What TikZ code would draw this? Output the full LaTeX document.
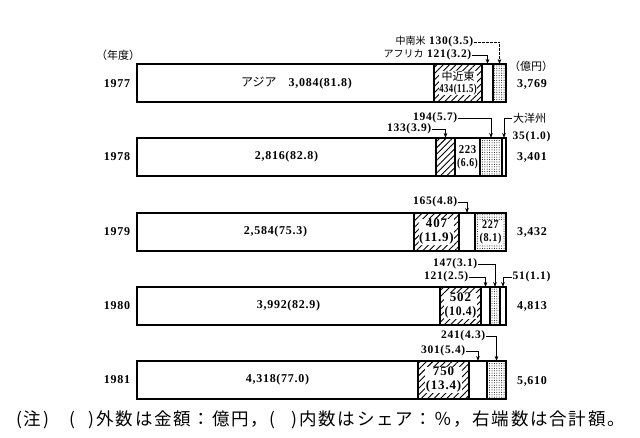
\documentclass[tikz,border=0pt]{standalone}
\usepackage{fontspec}
\usepackage{graphicx}
\usetikzlibrary{patterns.meta,arrows.meta}
\setmainfont{Liberation Serif}
\newfontfamily\jp{Noto Sans CJK JP}
\newfontfamily\jpnote{Noto Sans CJK JP}[LetterSpace=10]
\newfontfamily\numf{Liberation Serif}[LetterSpace=6]
\tikzset{
  seg/.style={draw, line width=1.6pt, inner sep=0pt, outer sep=0pt, minimum height=38pt, anchor=north west},
  hatch/.style={pattern={Lines[angle=45,distance=4.5pt,line width=0.9pt]}},
  dotfill/.style={pattern={Dots[distance=2.4pt,radius=0.5pt]}},
  num/.style={font=\numf\bfseries\fontsize{12}{13}\selectfont, inner sep=1pt},
  toplbl/.style={font=\numf\bfseries\fontsize{11.5}{12}\selectfont, inner sep=0.5pt},
  jpt/.style={font=\jp\fontsize{11}{12}\selectfont, inner sep=1pt},
  inlbl/.style={num, fill=white, inner sep=0.5pt, align=center},
  conn/.style={line width=0.7pt, -{Stealth[length=5pt,width=3.6pt]}}
}
\begin{document}
\begin{tikzpicture}[x=1pt,y=-1pt]
\useasboundingbox (0,0) rectangle (640,438);
\fill[white] (0,0) rectangle (640,438);
% header labels
\node[jpt] (nendo) at (118,55) {（年度）};
\node[jpt] (okuen) at (531,66) {（億円）};
% ---------------- 1977
\node[num] (y77) at (117,84) {1977};
\node[seg,minimum width=297pt] (a77) at (137,64) {};
\node[seg,hatch,minimum width=48pt] (b77) at (434,64) {};
\node[seg,minimum width=11pt] (c77) at (482,64) {};
\node[seg,dotfill,minimum width=13pt] (d77) at (493,64) {};
\node[num] (t77a) at ([xshift=11pt]a77.center) {{\jp\mdseries アジア}\quad 3,084(81.8)};
\node[inlbl, inner sep=0pt] (t77b) at (b77.center) {{\jp\mdseries\fontsize{11}{13}\selectfont 中近東}\\[-1pt]\scalebox{0.72}[1]{434(11.5)}};
\node[toplbl, anchor=east] (l77d) at (474,42) {{\jp\mdseries\fontsize{10}{11}\selectfont 中南米}\ 130(3.5)};
\draw[conn, dash pattern=on 2.5pt off 1.5pt] (l77d.east) -| (d77.north);
\node[toplbl, anchor=east] (l77c) at (472,55) {{\jp\mdseries\fontsize{10}{11}\selectfont アフリカ}\ 121(3.2)};
\draw[conn] (l77c.east) -| (c77.north);
\node[num] (s77) at (532,84) {3,769};
% ---------------- 1978
\node[num] (y78) at (117,157) {1978};
\node[seg,minimum width=299pt] (a78) at (137,138) {};
\node[seg,hatch,minimum width=19pt] (b78) at (436,138) {};
\node[seg,minimum width=25pt] (c78) at (455,138) {};
\node[seg,dotfill,minimum width=22pt] (d78) at (480,138) {};
\node[seg,minimum width=4pt] (e78) at (502,138) {};
\node[num] (t78a) at (a78.center) {2,816(82.8)};
\node[inlbl] (t78c) at (c78.center) {\scalebox{0.9}[1]{223}\\\scalebox{0.8}[1]{(6.6)}};
\node[toplbl, anchor=east] (l78d) at (458,118) {194(5.7)};
\draw[conn] (l78d.east) -| (d78.north);
\node[toplbl, anchor=east] (l78b) at (432,129) {133(3.9)};
\draw[conn] (l78b.east) -| (b78.north);
\node[jpt, anchor=west] (l78e) at (512,118) {大洋州};
\node[toplbl, anchor=west] (l78f) at (512,137) {35(1.0)};
\draw[conn] (l78e.west) -| (e78.north);
\node[num] (s78) at (532,157) {3,401};
% ---------------- 1979
\node[num] (y79) at (117,232) {1979};
\node[seg,minimum width=277pt] (a79) at (137,213) {};
\node[seg,hatch,minimum width=45pt] (b79) at (414,213) {};
\node[seg,minimum width=16pt] (c79) at (459,213) {};
\node[seg,dotfill,minimum width=31pt] (d79) at (475,213) {};
\node[num] (t79a) at (a79.center) {2,584(75.3)};
\node[inlbl, font=\numf\bfseries\fontsize{13}{14}\selectfont] (t79b) at (b79.center) {407\\(11.9)};
\node[inlbl] (t79d) at (d79.center) {\scalebox{0.85}[1]{227}\\\scalebox{0.85}[1]{(8.1)}};
\node[toplbl, anchor=east] (l79c) at (458,202) {165(4.8)};
\draw[conn] (l79c.east) -| (c79.north);
\node[num] (s79) at (532,232) {3,432};
% ---------------- 1980
\node[num] (y80) at (117,306) {1980};
\node[seg,minimum width=303pt] (a80) at (137,287) {};
\node[seg,hatch,minimum width=41pt] (b80) at (440,287) {};
\node[seg,minimum width=9pt] (c80) at (481,287) {};
\node[seg,dotfill,minimum width=10pt] (d80) at (490,287) {};
\node[seg,minimum width=6pt] (e80) at (500,287) {};
\node[num] (t80a) at (a80.center) {3,992(82.9)};
\node[inlbl, font=\numf\bfseries\fontsize{13}{14}\selectfont] (t80b) at (b80.center) {502\\\scalebox{0.9}[1]{(10.4)}};
\node[toplbl, anchor=east] (l80d) at (478,264) {147(3.1)};
\draw[conn] (l80d.east) -| (d80.north);
\node[toplbl, anchor=east] (l80c) at (469,277) {121(2.5)};
\draw[conn] (l80c.east) -| (c80.north);
\node[toplbl, anchor=west] (l80e) at (512,277) {51(1.1)};
\draw[conn] (l80e.west) -| (e80.north);
\node[num] (s80) at (532,306) {4,813};
% ---------------- 1981
\node[num] (y81) at (117,380) {1981};
\node[seg,minimum width=281pt] (a81) at (137,361) {};
\node[seg,hatch,minimum width=51pt] (b81) at (418,361) {};
\node[seg,minimum width=18pt] (c81) at (469,361) {};
\node[seg,dotfill,minimum width=19pt] (d81) at (487,361) {};
\node[num] (t81a) at (a81.center) {4,318(77.0)};
\node[inlbl, font=\numf\bfseries\fontsize{13}{14}\selectfont] (t81b) at (b81.center) {750\\(13.4)};
\node[toplbl, anchor=east] (l81d) at (486,336) {241(4.3)};
\draw[conn] (l81d.east) -| (d81.north);
\node[toplbl, anchor=east] (l81c) at (466,351) {301(5.4)};
\draw[conn] (l81c.east) -| (c81.north);
\node[num] (s81) at (532,381) {5,610};
% note
\node[anchor=west, inner sep=0pt, font=\jpnote\fontsize{17.5}{19}\selectfont] (note) at (16,420) {(注)\hspace{20pt}(\hspace{14pt})外数は金額：億円，(\hspace{16pt})内数はシェア：％，右端数は合計額。};
\end{tikzpicture}
\end{document}
